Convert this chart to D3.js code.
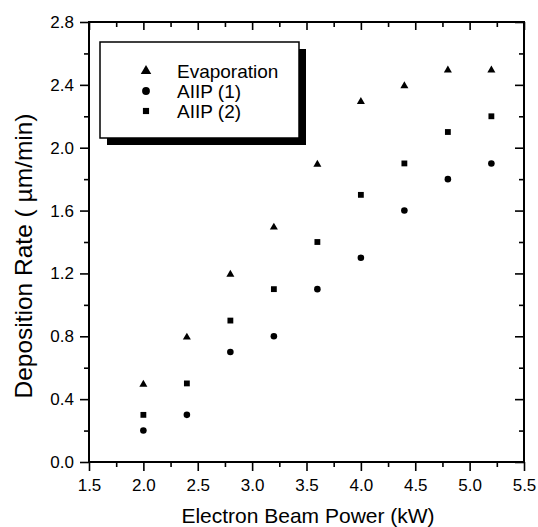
<!DOCTYPE html>
<html><head><meta charset="utf-8">
<script src="https://cdn.jsdelivr.net/npm/d3@7"></script>
<style>body{margin:0;background:#fff}svg{display:block}</style>
</head><body>
<svg id="c" width="538" height="527"></svg>
<script>
const powers = [2.0, 2.4, 2.8, 3.2, 3.6, 4.0, 4.4, 4.8, 5.2];
const evaporation = [0.5, 0.8, 1.2, 1.5, 1.9, 2.3, 2.4, 2.5, 2.5];
const aiip1 = [0.2, 0.3, 0.7, 0.8, 1.1, 1.3, 1.6, 1.8, 1.9];
const aiip2 = [0.3, 0.5, 0.9, 1.1, 1.4, 1.7, 1.9, 2.1, 2.2];
const seriesNames = ["Evaporation", "AIIP (1)", "AIIP (2)"];
const xTicks = [1.5, 2.0, 2.5, 3.0, 3.5, 4.0, 4.5, 5.0, 5.5];
const yTicks = [0.0, 0.4, 0.8, 1.2, 1.6, 2.0, 2.4, 2.8];

const svg = d3.select("#c");
const L = 89, R = 524, T = 22, B = 462;
const x = d3.scaleLinear().domain([1.5, 5.5]).range([L, R]);
const y = d3.scaleLinear().domain([0, 2.8]).range([B, T]);
const font = "'Liberation Sans', Arial, sans-serif";

const xMinor = d3.range(1.75, 5.5, 0.5);
const yMinor = d3.range(0.2, 2.8, 0.4);

// bottom axis (outward ticks)
svg.append("g").attr("transform", `translate(0,${B})`)
  .call(d3.axisBottom(x).tickValues(xTicks).tickFormat(d3.format(".1f")).tickSize(9).tickPadding(8));
svg.append("g").attr("transform", `translate(0,${B})`)
  .call(d3.axisBottom(x).tickValues(xMinor).tickFormat("").tickSize(5));
// left axis
svg.append("g").attr("transform", `translate(${L},0)`)
  .call(d3.axisLeft(y).tickValues(yTicks).tickFormat(d3.format(".1f")).tickSize(9).tickPadding(6));
svg.append("g").attr("transform", `translate(${L},0)`)
  .call(d3.axisLeft(y).tickValues(yMinor).tickFormat("").tickSize(5));
// top axis (inward)
svg.append("g").attr("transform", `translate(0,${T})`)
  .call(d3.axisTop(x).tickValues(xTicks).tickFormat("").tickSize(-8));
svg.append("g").attr("transform", `translate(0,${T})`)
  .call(d3.axisTop(x).tickValues(xMinor).tickFormat("").tickSize(-5));
// right axis (inward)
svg.append("g").attr("transform", `translate(${R},0)`)
  .call(d3.axisRight(y).tickValues(yTicks).tickFormat("").tickSize(-9));
svg.append("g").attr("transform", `translate(${R},0)`)
  .call(d3.axisRight(y).tickValues(yMinor).tickFormat("").tickSize(-5));

svg.selectAll(".domain").remove();
svg.selectAll(".tick line").attr("stroke", "#000").attr("stroke-width", 1.6);
svg.selectAll(".tick text").attr("font-family", font).attr("font-size", 17).attr("fill", "#000");

svg.append("rect").attr("x", L).attr("y", T).attr("width", R - L).attr("height", B - T)
  .attr("fill", "none").attr("stroke", "#000").attr("stroke-width", 2);

// markers
const tri = d3.symbol().type(d3.symbolTriangle).size(28);
const cir = d3.symbol().type(d3.symbolCircle).size(34);
const sq = d3.symbol().type(d3.symbolSquare).size(34);
const series = [
  {vals: evaporation, sym: tri, dy: 1},
  {vals: aiip1, sym: cir, dy: 0},
  {vals: aiip2, sym: sq, dy: 0}
];
series.forEach(s => {
  svg.append("g").selectAll("path").data(powers).enter().append("path")
    .attr("d", s.sym)
    .attr("transform", (d, i) => `translate(${x(d)},${y(s.vals[i]) + s.dy})`)
    .attr("fill", "#000");
});

// legend
const lx = 100, ly = 42, lw = 199, lh = 96;
svg.append("rect").attr("x", lx + 7).attr("y", ly + 7).attr("width", lw).attr("height", lh).attr("fill", "#000");
svg.append("rect").attr("x", lx).attr("y", ly).attr("width", lw).attr("height", lh)
  .attr("fill", "#fff").attr("stroke", "#000").attr("stroke-width", 1.5);
const legSyms = [
  d3.symbol().type(d3.symbolTriangle).size(48),
  d3.symbol().type(d3.symbolCircle).size(48),
  d3.symbol().type(d3.symbolSquare).size(38)
];
const rowY = [71, 91, 111];
seriesNames.forEach((n, i) => {
  svg.append("path").attr("d", legSyms[i]).attr("transform", `translate(146,${rowY[i]})`).attr("fill", "#000");
  svg.append("text").attr("x", 177).attr("y", rowY[i] + 7).text(n)
    .attr("font-family", font).attr("font-size", 19).attr("fill", "#000");
});

// axis titles
svg.append("text").attr("x", 308).attr("y", 523).attr("text-anchor", "middle")
  .attr("font-family", font).attr("font-size", 21).attr("fill", "#000").text("Electron Beam Power (kW)");
svg.append("text").attr("transform", `translate(32,256) rotate(-90)`).attr("text-anchor", "middle")
  .attr("font-family", font).attr("font-size", 24.5).attr("fill", "#000").text("Deposition Rate ( µm/min)");
</script>
</body></html>
